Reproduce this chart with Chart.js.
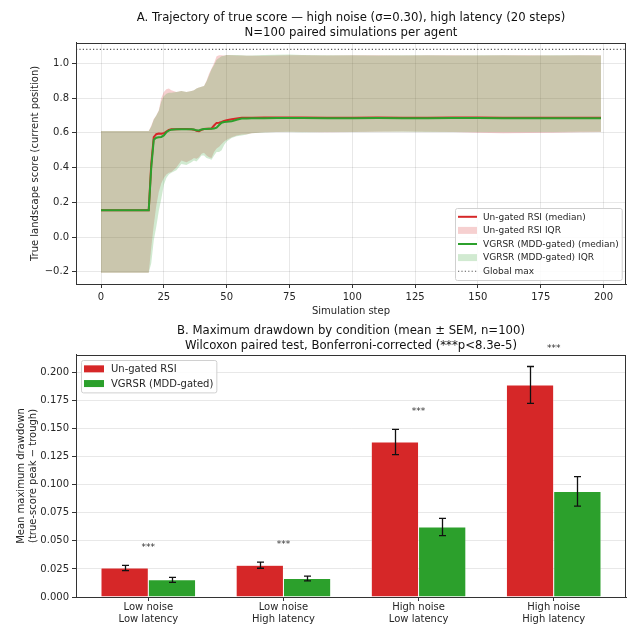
<!DOCTYPE html>
<html>
<head>
<meta charset="utf-8">
<title>Trajectory and drawdown</title>
<script src="https://cdn.jsdelivr.net/npm/chart.js@4.4.1/dist/chart.umd.min.js"></script>
<style>
  body { margin: 0; background: #fff; }
  #wrap { position: relative; width: 627px; height: 626px; }
  #wrap canvas { position: absolute; left: 0; }
</style>
</head>
<body>
<div id="wrap">
  <canvas id="trajChart" width="627" height="318" style="top:0"></canvas>
  <canvas id="ddChart" width="627" height="308" style="top:318px"></canvas>
</div>
<script>
// ---- panel A data ----
const steps = [0, 18, 19, 20, 21, 22, 23, 24, 25, 26, 27, 28, 30, 32, 34, 36, 37, 38, 39, 40, 41, 42, 43, 44, 45, 46, 47, 48, 49, 50, 52, 54, 56, 58, 60, 65, 70, 75, 80, 90, 100, 110, 120, 130, 140, 150, 160, 170, 180, 190, 199];
const ungatedMedian = [0.155, 0.155, 0.155, 0.42, 0.575, 0.592, 0.596, 0.594, 0.597, 0.607, 0.616, 0.62, 0.621, 0.622, 0.622, 0.621, 0.618, 0.612, 0.609, 0.617, 0.622, 0.623, 0.624, 0.625, 0.642, 0.657, 0.658, 0.662, 0.668, 0.672, 0.678, 0.682, 0.686, 0.687, 0.687, 0.688, 0.688, 0.688, 0.688, 0.687, 0.687, 0.688, 0.687, 0.687, 0.688, 0.688, 0.687, 0.687, 0.687, 0.687, 0.687];
const ungatedQ1 = [-0.205, -0.205, -0.205, -0.06, 0.07, 0.18, 0.26, 0.31, 0.34, 0.36, 0.37, 0.375, 0.40, 0.44, 0.43, 0.445, 0.455, 0.45, 0.46, 0.48, 0.485, 0.47, 0.46, 0.455, 0.49, 0.51, 0.52, 0.535, 0.55, 0.56, 0.575, 0.585, 0.59, 0.592, 0.598, 0.603, 0.605, 0.606, 0.605, 0.603, 0.604, 0.606, 0.607, 0.606, 0.604, 0.600, 0.598, 0.599, 0.601, 0.603, 0.605];
const ungatedQ3 = [0.61, 0.61, 0.61, 0.64, 0.68, 0.70, 0.73, 0.80, 0.835, 0.85, 0.855, 0.845, 0.835, 0.84, 0.835, 0.84, 0.845, 0.855, 0.86, 0.865, 0.87, 0.90, 0.94, 0.97, 1.0, 1.04, 1.046, 1.046, 1.045, 1.047, 1.046, 1.045, 1.045, 1.044, 1.043, 1.044, 1.045, 1.046, 1.046, 1.045, 1.046, 1.046, 1.045, 1.046, 1.046, 1.045, 1.046, 1.046, 1.045, 1.046, 1.046];
const vgrsrMedian = [0.155, 0.155, 0.155, 0.40, 0.56, 0.572, 0.575, 0.576, 0.585, 0.603, 0.613, 0.618, 0.62, 0.62, 0.621, 0.62, 0.619, 0.614, 0.613, 0.619, 0.622, 0.622, 0.623, 0.624, 0.625, 0.63, 0.645, 0.658, 0.662, 0.663, 0.666, 0.675, 0.682, 0.683, 0.684, 0.684, 0.685, 0.685, 0.685, 0.684, 0.684, 0.685, 0.684, 0.684, 0.685, 0.685, 0.684, 0.684, 0.684, 0.684, 0.684];
const vgrsrQ1 = [-0.205, -0.205, -0.205, -0.15, -0.02, 0.06, 0.15, 0.22, 0.30, 0.34, 0.36, 0.37, 0.385, 0.42, 0.415, 0.43, 0.44, 0.435, 0.45, 0.47, 0.47, 0.455, 0.45, 0.445, 0.47, 0.49, 0.49, 0.50, 0.53, 0.55, 0.57, 0.58, 0.585, 0.59, 0.597, 0.602, 0.604, 0.604, 0.603, 0.604, 0.605, 0.606, 0.606, 0.605, 0.605, 0.604, 0.604, 0.605, 0.605, 0.606, 0.606];
const vgrsrQ3 = [0.61, 0.61, 0.61, 0.635, 0.675, 0.70, 0.725, 0.78, 0.81, 0.825, 0.83, 0.83, 0.835, 0.84, 0.835, 0.84, 0.845, 0.855, 0.86, 0.865, 0.87, 0.895, 0.93, 0.965, 0.99, 1.02, 1.03, 1.04, 1.044, 1.047, 1.048, 1.047, 1.046, 1.045, 1.045, 1.047, 1.049, 1.051, 1.048, 1.046, 1.046, 1.045, 1.046, 1.046, 1.045, 1.046, 1.046, 1.045, 1.046, 1.046, 1.045];
const globalMax = 1.08;
const trajXTicks = [0, 25, 50, 75, 100, 125, 150, 175, 200];
const trajYTicks = [-0.2, 0.0, 0.2, 0.4, 0.6, 0.8, 1.0];

// ---- panel B data ----
const conditions = [['Low noise', 'Low latency'], ['Low noise', 'High latency'], ['High noise', 'Low latency'], ['High noise', 'High latency']];
const ungatedMdd = [0.0258, 0.0283, 0.1380, 0.1888];
const ungatedSem = [0.0024, 0.0027, 0.0112, 0.0164];
const vgrsrMdd = [0.0153, 0.0165, 0.0623, 0.0940];
const vgrsrSem = [0.0022, 0.0021, 0.0077, 0.0131];
const sigMarks = ['***', '***', '***', '***'];
const ddYTicks = [0, 0.025, 0.05, 0.075, 0.1, 0.125, 0.15, 0.175, 0.2];

const RED = '#d62728', GREEN = '#2ca02c';
const RED_BAND = 'rgba(214,39,40,0.22)', GREEN_BAND = 'rgba(44,160,44,0.22)';
const FONT = 'DejaVu Sans';
Chart.defaults.font.family = FONT;
Chart.defaults.color = '#262626';

// box around the axes (matplotlib spines)
const frame = {
  id: 'frame',
  afterDraw(chart) {
    const a = chart.chartArea, ctx = chart.ctx;
    ctx.save();
    ctx.strokeStyle = '#333';
    ctx.lineWidth = 1;
    ctx.strokeRect(Math.round(a.left) + 0.5, Math.round(a.top) + 0.5, Math.round(a.right - a.left) - 1, Math.round(a.bottom - a.top));
    ctx.restore();
  }
};

// legend drawn inside the axes like matplotlib's
const boxLegend = {
  id: 'boxLegend',
  afterDraw(chart, args, o) {
    if (!o.items) return;
    const ctx = chart.ctx, a = chart.chartArea;
    ctx.save();
    ctx.font = o.fontSize + 'px "' + FONT + '"';
    const textW = Math.max(...o.items.map(it => ctx.measureText(it.text).width));
    const w = o.padX * 2 + o.handleW + o.gap + textW;
    const h = o.padY * 2 + o.rowH * o.items.length;
    let x, y;
    if (o.corner === 'lowerRight') { x = a.right - o.margin - w; y = a.bottom - o.margin - h; }
    else { x = a.left + o.margin; y = a.top + o.margin; }
    x = Math.round(x); y = Math.round(y);
    ctx.fillStyle = 'rgba(255,255,255,0.85)';
    ctx.strokeStyle = '#d0d0d0';
    ctx.lineWidth = 1;
    ctx.beginPath();
    ctx.roundRect(x + 0.5, y + 0.5, w, h, 2);
    ctx.fill();
    ctx.stroke();
    o.items.forEach((it, i) => {
      const cy = y + o.padY + o.rowH * i + o.rowH / 2;
      const hx = x + o.padX;
      if (it.kind === 'patch') {
        ctx.fillStyle = it.color;
        ctx.fillRect(hx, cy - 3.5, o.handleW, 7);
      } else {
        ctx.strokeStyle = it.color;
        ctx.lineWidth = it.width;
        ctx.setLineDash(it.dash || []);
        ctx.beginPath();
        ctx.moveTo(hx, cy);
        ctx.lineTo(hx + o.handleW, cy);
        ctx.stroke();
        ctx.setLineDash([]);
      }
      ctx.fillStyle = '#262626';
      ctx.textBaseline = 'middle';
      ctx.textAlign = 'left';
      ctx.fillText(it.text, hx + o.handleW + o.gap, cy + 0.5);
    });
    ctx.restore();
  }
};

// SEM whiskers on the bars
const errorBars = {
  id: 'errorBars',
  afterDatasetsDraw(chart, args, o) {
    const ctx = chart.ctx, ys = chart.scales.y;
    ctx.save();
    ctx.strokeStyle = '#111';
    ctx.lineWidth = 1.3;
    chart.data.datasets.forEach((ds, i) => {
      const meta = chart.getDatasetMeta(i);
      meta.data.forEach((bar, j) => {
        const v = ds.data[j].y, e = ds.sem[j];
        const x = Math.round(bar.x) + 0.5;
        const y1 = ys.getPixelForValue(v + e), y0 = ys.getPixelForValue(v - e);
        ctx.beginPath();
        ctx.moveTo(x, y0); ctx.lineTo(x, y1);
        ctx.moveTo(x - o.cap, y0); ctx.lineTo(x + o.cap, y0);
        ctx.moveTo(x - o.cap, y1); ctx.lineTo(x + o.cap, y1);
        ctx.stroke();
      });
    });
    ctx.restore();
  }
};

// significance stars above each pair
const sigStars = {
  id: 'sigStars',
  afterDraw(chart, args, o) {
    const ctx = chart.ctx, xs = chart.scales.x, ys = chart.scales.y;
    ctx.save();
    ctx.font = o.fontSize + 'px "' + FONT + '"';
    ctx.fillStyle = '#333';
    ctx.textAlign = 'center';
    ctx.textBaseline = 'alphabetic';
    sigMarks.forEach((m, j) => {
      const top = Math.max(ungatedMdd[j] + ungatedSem[j], vgrsrMdd[j] + vgrsrSem[j]);
      ctx.fillText(m, xs.getPixelForValue(j), ys.getPixelForValue(top + o.offset) + 5);
    });
    ctx.restore();
  }
};

function pts(arr) { return steps.map((s, i) => ({ x: s, y: arr[i] })); }
function fixTicks(list) { return scale => { scale.ticks = list.map(v => ({ value: v })); }; }
function minus(s) { return s.replace('-', '\u2212'); }

const gridCol = 'rgba(0,0,0,0.09)';

new Chart(document.getElementById('trajChart'), {
  type: 'line',
  data: {
    datasets: [
      { label: 'Un-gated RSI Q1', data: pts(ungatedQ1), borderWidth: 0, pointRadius: 0, fill: false, order: 3 },
      { label: 'Un-gated RSI IQR', data: pts(ungatedQ3), borderWidth: 0, pointRadius: 0, fill: '-1', backgroundColor: RED_BAND, order: 3 },
      { label: 'VGRSR Q1', data: pts(vgrsrQ1), borderWidth: 0, pointRadius: 0, fill: false, order: 2 },
      { label: 'VGRSR (MDD-gated) IQR', data: pts(vgrsrQ3), borderWidth: 0, pointRadius: 0, fill: '-1', backgroundColor: GREEN_BAND, order: 2 },
      { label: 'Global max', data: [{ x: -9.95, y: globalMax }, { x: 208.95, y: globalMax }], borderColor: 'rgba(0,0,0,0.65)', borderWidth: 1.1, borderDash: [1.2, 2.2], pointRadius: 0, order: 1 },
      { label: 'Un-gated RSI (median)', data: pts(ungatedMedian), borderColor: RED, borderWidth: 2, pointRadius: 0, order: 1 },
      { label: 'VGRSR (MDD-gated) (median)', data: pts(vgrsrMedian), borderColor: GREEN, borderWidth: 2, pointRadius: 0, order: 0 }
    ]
  },
  options: {
    responsive: false,
    animation: false,
    layout: { padding: { right: 1 } },
    elements: { line: { tension: 0 } },
    plugins: {
      legend: { display: false },
      tooltip: { enabled: false },
      title: {
        display: true,
        fullSize: false,
        text: ['A. Trajectory of true score \u2014 high noise (\u03c3=0.30), high latency (20 steps)', 'N=100 paired simulations per agent'],
        color: '#111',
        font: { size: 11.7, weight: 'normal', lineHeight: 1.28 },
        padding: { top: 10.5, bottom: 2.5 }
      },
      boxLegend: {
        corner: 'lowerRight', margin: 4, fontSize: 9, rowH: 13.6, padX: 3, padY: 2, handleW: 19, gap: 6,
        items: [
          { kind: 'line', color: RED, width: 2, text: 'Un-gated RSI (median)' },
          { kind: 'patch', color: RED_BAND, text: 'Un-gated RSI IQR' },
          { kind: 'line', color: GREEN, width: 2, text: 'VGRSR (MDD-gated) (median)' },
          { kind: 'patch', color: GREEN_BAND, text: 'VGRSR (MDD-gated) IQR' },
          { kind: 'line', color: 'rgba(0,0,0,0.65)', width: 1.1, dash: [1.2, 2.2], text: 'Global max' }
        ]
      }
    },
    scales: {
      x: {
        type: 'linear', min: -9.95, max: 208.95,
        afterBuildTicks: fixTicks(trajXTicks),
        afterFit: s => { s.height = 34; },
        ticks: { font: { size: 10 }, padding: 3, maxRotation: 0 },
        grid: { color: gridCol, tickColor: '#333', tickLength: 4 },
        border: { color: '#333' },
        title: { display: true, text: 'Simulation step', font: { size: 10 }, padding: { top: 0, bottom: 1 } }
      },
      y: {
        min: -0.27, max: 1.117,
        afterBuildTicks: fixTicks(trajYTicks),
        afterFit: s => { s.width = 76; },
        ticks: { font: { size: 10 }, padding: 3, callback: v => minus(v.toFixed(1)) },
        grid: { color: gridCol, tickColor: '#333', tickLength: 4 },
        border: { color: '#333' },
        title: { display: true, text: 'True landscape score (current position)', font: { size: 10 }, padding: { top: 29, bottom: 0 } }
      }
    }
  },
  plugins: [frame, boxLegend]
});

new Chart(document.getElementById('ddChart'), {
  type: 'bar',
  data: {
    datasets: [
      { label: 'Un-gated RSI', data: ungatedMdd.map((v, i) => ({ x: i, y: v })), sem: ungatedSem, backgroundColor: RED, borderColor: 'rgba(255,255,255,0.5)', borderWidth: 0.5 },
      { label: 'VGRSR (MDD-gated)', data: vgrsrMdd.map((v, i) => ({ x: i, y: v })), sem: vgrsrSem, backgroundColor: GREEN, borderColor: 'rgba(255,255,255,0.5)', borderWidth: 0.5 }
    ]
  },
  options: {
    responsive: false,
    animation: false,
    layout: { padding: { right: 1 } },
    datasets: { bar: { categoryPercentage: 0.7, barPercentage: 1.0 } },
    plugins: {
      legend: { display: false },
      tooltip: { enabled: false },
      title: {
        display: true,
        fullSize: false,
        text: ['B. Maximum drawdown by condition (mean \u00b1 SEM, n=100)', 'Wilcoxon paired test, Bonferroni-corrected (***p<8.3e-5)'],
        color: '#111',
        font: { size: 11.7, weight: 'normal', lineHeight: 1.28 },
        padding: { top: 5.5, bottom: 1.5 }
      },
      boxLegend: {
        corner: 'upperLeft', margin: 5, fontSize: 10, rowH: 14.7, padX: 3, padY: 1.5, handleW: 20, gap: 7,
        items: [
          { kind: 'patch', color: RED, text: 'Un-gated RSI' },
          { kind: 'patch', color: GREEN, text: 'VGRSR (MDD-gated)' }
        ]
      },
      errorBars: { cap: 3.5 },
      sigStars: { fontSize: 9, offset: 0.018 }
    },
    scales: {
      x: {
        type: 'linear', min: -0.535, max: 3.535, offset: false,
        afterBuildTicks: fixTicks([0, 1, 2, 3]),
        afterFit: s => { s.height = 29; },
        ticks: { font: { size: 10, lineHeight: 1.15 }, padding: 1, maxRotation: 0, callback: v => conditions[v] },
        grid: { display: true, drawOnChartArea: false, offset: false, tickColor: '#333', tickLength: 4 },
        border: { color: '#333' }
      },
      y: {
        min: 0, max: 0.2155,
        afterBuildTicks: fixTicks(ddYTicks),
        afterFit: s => { s.width = 76; },
        ticks: { font: { size: 10 }, padding: 3, callback: v => v.toFixed(3) },
        grid: { color: gridCol, tickColor: '#333', tickLength: 4 },
        border: { color: '#333' },
        title: { display: true, text: ['Mean maximum drawdown', '(true-score peak \u2212 trough)'], font: { size: 10 }, padding: { top: 15, bottom: 0 } }
      }
    }
  },
  plugins: [frame, boxLegend, errorBars, sigStars]
});
</script>
</body>
</html>
